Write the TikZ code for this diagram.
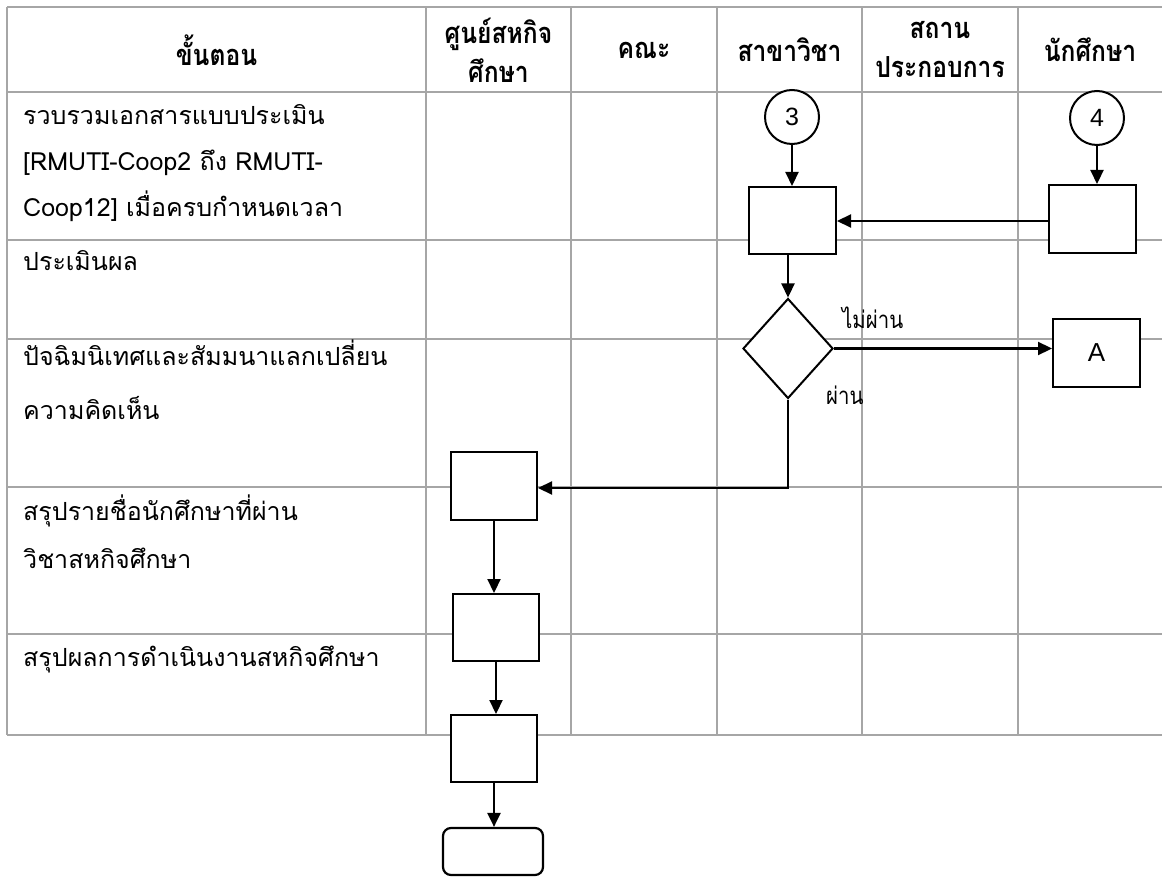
\documentclass[tikz,border=0pt]{standalone}
\usepackage{fontspec}
\setmainfont{Liberation Sans}
\newfontfamily\thai[Script=Thai]{Loma}
\newfontfamily\thainarrow[Script=Thai, FakeStretch=0.85]{Loma}
\usetikzlibrary{arrows.meta,shapes.geometric}

\definecolor{gridgray}{RGB}{166,166,166}

\tikzset{
  gridline/.style={draw=gridgray, line width=2pt},
  stepbox/.style={draw=black, fill=white, line width=2pt, rectangle,
                  inner sep=0pt, minimum width=87pt, minimum height=67pt},
  decision/.style={draw=black, fill=white, line width=2pt, diamond,
                   inner sep=0pt, minimum width=90pt, minimum height=100pt},
  connector/.style={draw=black, fill=white, line width=2pt, circle,
                    inner sep=0pt, minimum size=54pt, font=\fontsize{25}{28}\selectfont},
  terminal/.style={draw=black, fill=white, line width=2.2pt, rectangle,
                   rounded corners=8pt, inner sep=0pt,
                   minimum width=100pt, minimum height=47pt},
  flow/.style={draw=black, line width=2.2pt, -{Triangle[length=14pt,width=13pt]}},
  head/.style={font=\thainarrow\bfseries\fontsize{29}{39}\selectfont, align=center, inner sep=0pt},
  rowtext/.style={font=\thai\fontsize{25}{28}\selectfont, anchor=base west, inner sep=0pt},
  flowlabel/.style={font=\thainarrow\fontsize{24}{28}\selectfont, anchor=base west, inner sep=0pt},
}

\begin{document}
\begin{tikzpicture}[x=1pt, y=-1pt]
  \useasboundingbox (0,0) rectangle (1162,877);

  % swimlane table
  \foreach \yy in {7,92,240,339,487,634,735}
    \draw[gridline] (7,\yy) -- (1162,\yy);
  \foreach \xx in {7,426,571,717,862,1018}
    \draw[gridline] (\xx,7) -- (\xx,735);

  % column headings
  \node[head] (h0) at (216.5,50) {ขั้นตอน};
  \node[head] (h1) at (498.5,50) {ศูนย์สหกิจ\\ศึกษา};
  \node[head] (h2) at (644,50) {คณะ};
  \node[head] (h3) at (789.5,50) {สาขาวิชา};
  \node[head] (h4) at (940,50) {สถาน\\ประกอบการ};
  \node[head] (h5) at (1090,50) {นักศึกษา};

  % step descriptions
  \node[rowtext] (s1a) at (23,125) {รวบรวมเอกสารแบบประเมิน};
  \node[rowtext] (s1b) at (23,171) {[RMUTI-Coop2 ถึง RMUTI-};
  \node[rowtext] (s1c) at (23,217) {Coop12] เมื่อครบกำหนดเวลา};
  \node[rowtext] (s2)  at (23,271) {ประเมินผล};
  \node[rowtext] (s3a) at (23,366) {ปัจฉิมนิเทศและสัมมนาแลกเปลี่ยน};
  \node[rowtext] (s3b) at (23,419) {ความคิดเห็น};
  \node[rowtext] (s4a) at (23,520) {สรุปรายชื่อนักศึกษาที่ผ่าน};
  \node[rowtext] (s4b) at (23,568) {วิชาสหกิจศึกษา};
  \node[rowtext] (s5)  at (23,666) {สรุปผลการดำเนินงานสหกิจศึกษา};

  % flowchart symbols
  \node[connector] (c3) at (792,117) {3};
  \node[connector] (c4) at (1097,118) {4};
  \node[stepbox] (b1) at (792.5,220.5) {};
  \node[stepbox, minimum height=68pt] (b4) at (1092.5,219) {};
  \node[decision] (d) at (788,348.5) {};
  \node[stepbox, minimum height=68pt, font=\fontsize{26}{30}\selectfont] (A) at (1096.5,353) {A};
  \node[stepbox, minimum width=86pt, minimum height=68pt] (b5) at (494,486) {};
  \node[stepbox, minimum width=86pt] (b6) at (496,627.5) {};
  \node[stepbox, minimum width=86pt] (b7) at (494,748.5) {};
  \node[terminal] (t) at (493,851.5) {};

  % branch labels
  \node[flowlabel] (no)  at (842,328) {ไม่ผ่าน};
  \node[flowlabel] (yes) at (826,404) {ผ่าน};

  % connectors
  \draw[flow] (c3.south) -- (c3.south |- b1.north);
  \draw[flow] (c4.south) -- (c4.south |- b4.north);
  \draw[flow] ([yshift=-2pt]b4.west) -- ([yshift=-2pt]b4.west -| b1.east);
  \draw[flow] (d.north |- b1.south) -- (d.north);
  \draw[flow] (d.east) -- (d.east -| A.west);
  \draw[flow] (d.south) |- ([yshift=-2pt]b5.east);
  \draw[flow] (b5.south) -- (b5.south |- b6.north);
  \draw[flow] (b6.south) -- (b6.south |- b7.north);
  \draw[flow] (b7.south) -- (b7.south |- t.north);
\end{tikzpicture}
\end{document}
